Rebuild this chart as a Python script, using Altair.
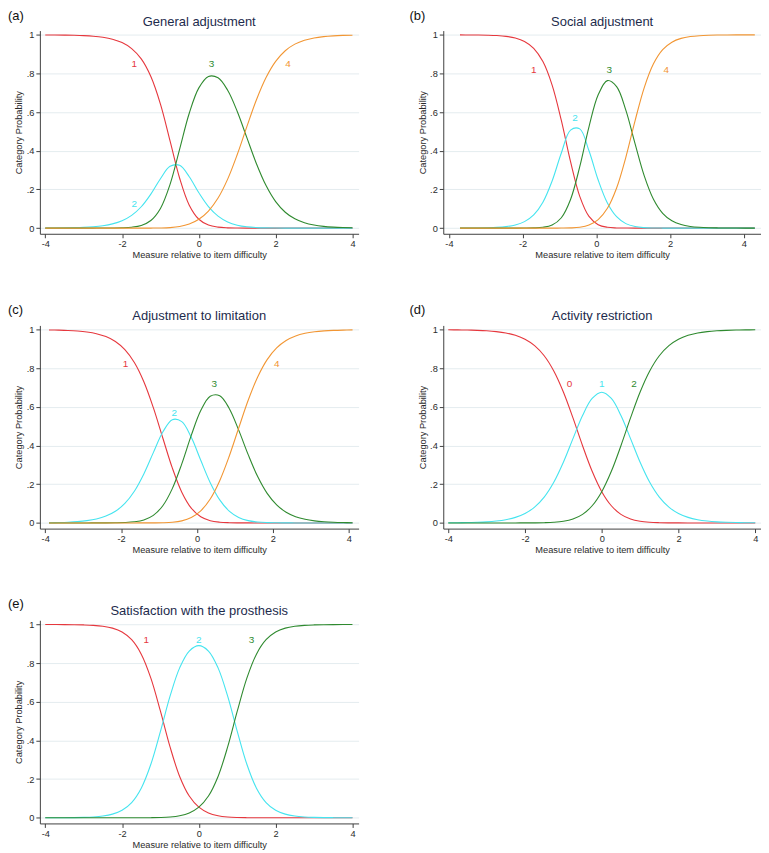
import altair as alt
import pandas as pd

FONT = "Liberation Sans"

# ---------------- data ----------------
# (a) General adjustment
a_x = [-4, -3.75, -3.5, -3.25, -3, -2.75, -2.5, -2.25, -2, -1.75, -1.5, -1.25, -1, -0.75, -0.5, -0.25,
       0, 0.25, 0.5, 0.75, 1, 1.25, 1.5, 1.75, 2, 2.25, 2.5, 2.75, 3, 3.25, 3.5, 3.75, 4]
a_cats = ["1", "2", "3", "4"]
a_p1 = [0.9996, 0.9993, 0.9987, 0.9977, 0.996, 0.993, 0.9874, 0.9775, 0.960, 0.929, 0.8756, 0.7844, 0.6417,
        0.4514, 0.2581, 0.1188, 0.0459, 0.0157, 0.0049, 0.0014, 0.0004, 0.0001, 0, 0, 0, 0, 0, 0, 0, 0, 0, 0, 0]
a_p2 = [0.0004, 0.0007, 0.0013, 0.0023, 0.004, 0.0071, 0.0125, 0.022, 0.0384, 0.066, 0.1105, 0.176, 0.2557,
        0.3197, 0.3249, 0.2657, 0.1826, 0.1111, 0.0619, 0.032, 0.0152, 0.0066, 0.0027, 0.001, 0.0003,
        0, 0, 0, 0, 0, 0, 0, 0]
a_p3 = [0, 0, 0, 0, 0, 0.0001, 0.0002, 0.0005, 0.0015, 0.0047, 0.0139, 0.0395, 0.1019, 0.2264, 0.4088, 0.5943,
        0.7256, 0.7849, 0.7777, 0.7132, 0.6035, 0.4681, 0.3331, 0.2199, 0.137, 0.0821, 0.0479, 0.0275, 0.0157,
        0.0089, 0.005, 0.0028, 0.0016]
a_p4 = [0, 0, 0, 0, 0, 0, 0, 0, 0, 0, 0, 0.0001, 0.0006, 0.0026, 0.0082, 0.0212, 0.0459, 0.0883, 0.1554,
        0.2534, 0.381, 0.5252, 0.6642, 0.7791, 0.8627, 0.918, 0.9521, 0.9725, 0.9843, 0.9911, 0.995, 0.9972, 0.9984]

# (b) Social adjustment
b_x = [-3.7, -3.45, -3.2, -2.95, -2.7, -2.45, -2.2, -1.95, -1.7, -1.45, -1.2, -0.95, -0.7, -0.45, -0.2,
       0.05, 0.3, 0.55, 0.8, 1.05, 1.3, 1.55, 1.8, 2.05, 2.3, 2.55, 2.8, 3.05, 3.3, 3.55, 3.8, 4.05, 4.3]
b_cats = ["1", "2", "3", "4"]
b_p1 = [0.9998, 0.9996, 0.9992, 0.9983, 0.9964, 0.9923, 0.9838, 0.9662, 0.9306, 0.8617, 0.7401, 0.5573,
        0.3435, 0.1642, 0.0604, 0.0178, 0.0044, 0.0009, 0.0002, 0, 0, 0, 0, 0, 0, 0, 0, 0, 0, 0, 0, 0, 0]
b_p2 = [0.0002, 0.0004, 0.0008, 0.0017, 0.0036, 0.0077, 0.0162, 0.0336, 0.0684, 0.1342, 0.2439, 0.3888,
        0.5073, 0.5135, 0.40, 0.2488, 0.13, 0.0589, 0.0232, 0.0079, 0.0023, 0.0006, 0.0001,
        0, 0, 0, 0, 0, 0, 0, 0, 0, 0]
b_p3 = [0, 0, 0, 0, 0, 0, 0, 0.0002, 0.001, 0.0041, 0.0159, 0.0537, 0.1483, 0.3178, 0.524, 0.6898, 0.7634,
        0.7323, 0.6102, 0.4368, 0.2703, 0.1492, 0.0766, 0.0377, 0.0182, 0.0087, 0.0041, 0.0019, 0.0009,
        0.0004, 0.0002, 0.0001, 0]
b_p4 = [0, 0, 0, 0, 0, 0, 0, 0, 0, 0, 0, 0.0002, 0.001, 0.0045, 0.0157, 0.0437, 0.1023, 0.2078, 0.3664,
        0.5553, 0.7274, 0.8502, 0.9234, 0.9623, 0.9818, 0.9913, 0.9959, 0.9981, 0.9991, 0.9996, 0.9998,
        0.9999, 1.0]

# (c) Adjustment to limitation
c_x = [-3.9, -3.65, -3.4, -3.15, -2.9, -2.65, -2.4, -2.15, -1.9, -1.65, -1.4, -1.15, -0.9, -0.65, -0.4,
       -0.15, 0.1, 0.35, 0.6, 0.85, 1.1, 1.35, 1.6, 1.85, 2.1, 2.35, 2.6, 2.85, 3.1, 3.35, 3.6, 3.85, 4.1]
c_cats = ["1", "2", "3", "4"]
c_p1 = [0.9988, 0.9978, 0.9962, 0.9933, 0.9882, 0.9795, 0.9644, 0.939, 0.8968, 0.83, 0.7306, 0.5967, 0.4397,
        0.2846, 0.1592, 0.0766, 0.0319, 0.0117, 0.0038, 0.0011, 0.0003, 0.0001, 0, 0, 0, 0, 0, 0, 0, 0, 0, 0, 0]
c_p2 = [0.0012, 0.0022, 0.0038, 0.0067, 0.0118, 0.0204, 0.0353, 0.0603, 0.1012, 0.1643, 0.2537, 0.3638,
        0.4703, 0.5344, 0.5245, 0.4428, 0.324, 0.2083, 0.1191, 0.0611, 0.0282, 0.0118, 0.0046, 0.0017,
        0.0006, 0.0002, 0, 0, 0, 0, 0, 0, 0]
c_p3 = [0, 0, 0, 0, 0, 0.0001, 0.0002, 0.0007, 0.002, 0.0058, 0.0156, 0.0392, 0.089, 0.1775, 0.3056, 0.4529,
        0.5815, 0.656, 0.6584, 0.5926, 0.4803, 0.3535, 0.2399, 0.1529, 0.0934, 0.0555, 0.0324, 0.0187, 0.0107,
        0.0061, 0.0035, 0.002, 0.0011]
c_p4 = [0, 0, 0, 0, 0, 0, 0, 0, 0, 0, 0.0001, 0.0003, 0.001, 0.0035, 0.0107, 0.0278, 0.0627, 0.1241, 0.2187,
        0.3452, 0.4912, 0.6346, 0.7555, 0.8454, 0.906, 0.9443, 0.9676, 0.9813, 0.9893, 0.9939, 0.9965,
        0.998, 0.9989]

# (d) Activity restriction
d_x = [-4, -3.75, -3.5, -3.25, -3, -2.75, -2.5, -2.25, -2, -1.75, -1.5, -1.25, -1, -0.75, -0.5, -0.25,
       0, 0.25, 0.5, 0.75, 1, 1.25, 1.5, 1.75, 2, 2.25, 2.5, 2.75, 3, 3.25, 3.5, 3.75, 4]
d_cats = ["0", "1", "2"]
d_p0 = [0.9994, 0.9989, 0.9981, 0.9967, 0.9944, 0.9902, 0.9832, 0.9712, 0.951, 0.9179, 0.8654, 0.7866,
        0.6779, 0.5436, 0.3997, 0.2671, 0.1618, 0.0889, 0.0443, 0.0201, 0.0083, 0.0032, 0.0012, 0.0004,
        0.0001, 0, 0, 0, 0, 0, 0, 0, 0]
d_p1 = [0.0006, 0.0011, 0.0019, 0.0033, 0.0056, 0.0098, 0.0168, 0.0288, 0.0488, 0.0816, 0.1334, 0.2101,
        0.3138, 0.4363, 0.556, 0.644, 0.6763, 0.644, 0.556, 0.4363, 0.3138, 0.2101, 0.1334, 0.0816, 0.0488,
        0.0288, 0.0168, 0.0098, 0.0056, 0.0033, 0.0019, 0.0011, 0.0006]
d_p2 = [0, 0, 0, 0, 0, 0, 0, 0, 0.0001, 0.0004, 0.0012, 0.0032, 0.0083, 0.0201, 0.0443, 0.0889, 0.1618,
        0.2671, 0.3997, 0.5436, 0.6779, 0.7866, 0.8654, 0.9179, 0.951, 0.9712, 0.9832, 0.9902, 0.9944,
        0.9967, 0.9981, 0.9989, 0.9994]

# (e) Satisfaction with the prosthesis
e_x = [-4, -3.75, -3.5, -3.25, -3, -2.75, -2.5, -2.25, -2, -1.75, -1.5, -1.25, -1, -0.75, -0.5, -0.25,
       0, 0.25, 0.5, 0.75, 1, 1.25, 1.5, 1.75, 2, 2.25, 2.5, 2.75, 3, 3.25, 3.5, 3.75, 4]
e_cats = ["1", "2", "3"]
e_p1 = [0.9999, 0.9998, 0.9996, 0.9991, 0.998, 0.9958, 0.9911, 0.9813, 0.9612, 0.9213, 0.8468, 0.7228,
        0.5515, 0.3667, 0.2136, 0.1122, 0.0547, 0.025, 0.0106, 0.0041, 0.0014, 0.0004, 0.0001,
        0, 0, 0, 0, 0, 0, 0, 0, 0, 0]
e_p2 = [0.0001, 0.0002, 0.0004, 0.0009, 0.002, 0.0042, 0.0089, 0.0187, 0.0388, 0.0787, 0.1532, 0.2768,
        0.4471, 0.6293, 0.7758, 0.8628, 0.8906, 0.8628, 0.7758, 0.6293, 0.4471, 0.2768, 0.1532, 0.0787,
        0.0388, 0.0187, 0.0089, 0.0042, 0.002, 0.0009, 0.0004, 0.0002, 0.0001]
e_p3 = [0, 0, 0, 0, 0, 0, 0, 0, 0, 0, 0.0001, 0.0004, 0.0014, 0.0041, 0.0106, 0.025, 0.0547, 0.1122, 0.2136,
        0.3667, 0.5515, 0.7228, 0.8468, 0.9213, 0.9612, 0.9813, 0.9911, 0.9958, 0.998, 0.9991, 0.9996,
        0.9998, 0.9999]

x_ticks = [-4, -2, 0, 2, 4]
y_ticks = [0, 0.2, 0.4, 0.6, 0.8, 1]

# ---------------- styling ----------------
PALETTE = ["#e6373d", "#45e4ef", "#2f8a2f", "#f29633"]
AXIS_COL = "#3f3f3f"
TEXT_COL = "#2b2b2b"
TITLE_COL = "#1d2b4c"
GRID_COL = "#e4ecef"
PLOT_H = 204
Y_DOM = [-0.0294, 1.0222]


def make_panel(title, letter, xs, cats, series, label_pos, xdom, width, letter_xy):
    rows = []
    for cat, vals in zip(cats, series):
        for xv, pv in zip(xs, vals):
            rows.append({"x": xv, "series": cat, "p": pv})
    df = pd.DataFrame(rows)

    x_enc = alt.X(
        "x:Q",
        scale=alt.Scale(domain=xdom, nice=False, zero=False),
        axis=alt.Axis(
            values=x_ticks, title="Measure relative to item difficulty", grid=False,
            labelExpr="toString(datum.value)", labelFlush=False, labelOverlap=False,
            tickSize=4, tickColor=AXIS_COL, domainColor=AXIS_COL, labelPadding=2,
            labelFont=FONT, labelFontSize=9.3, labelColor=TEXT_COL,
            titleFont=FONT, titleFontSize=9.3, titleFontWeight="normal", titleColor=TEXT_COL,
            titleY=24.3, titleBaseline="alphabetic",
        ),
    )
    y_enc = alt.Y(
        "p:Q",
        scale=alt.Scale(domain=Y_DOM, nice=False, zero=False),
        axis=alt.Axis(
            values=y_ticks, title="Category Probability", grid=True, gridColor=GRID_COL,
            labelExpr="datum.value == 0 ? '0' : datum.value == 1 ? '1' : replace(toString(datum.value), '0.', '.')",
            labelOverlap=False, tickSize=4, tickColor=AXIS_COL, domainColor=AXIS_COL, labelPadding=2,
            labelFont=FONT, labelFontSize=9.3, labelColor=TEXT_COL,
            titleFont=FONT, titleFontSize=9.3, titleFontWeight="normal", titleColor=TEXT_COL,
            titleAngle=-90, titleX=-18, titleY=PLOT_H / 2, titleAlign="center", titleBaseline="alphabetic",
        ),
    )

    layers = []
    for i, cat in enumerate(cats):
        layers.append(
            alt.Chart(df)
            .transform_filter(alt.datum.series == cat)
            .mark_line(color=PALETTE[i], strokeWidth=1.1, interpolate="catmull-rom")
            .encode(x=x_enc, y=y_enc)
        )
    one = alt.Data(values=[{}])
    for i, (cat, (lx, ly)) in enumerate(zip(cats, label_pos)):
        layers.append(
            alt.Chart(one)
            .mark_text(color=PALETTE[i], font=FONT, fontSize=10, align="center", baseline="middle")
            .encode(x=alt.datum(lx), y=alt.datum(ly), text=alt.value(cat))
        )
    # panel title (as a text mark so that it does not disturb the grid layout)
    layers.append(
        alt.Chart(one)
        .mark_text(color=TITLE_COL, font=FONT, fontSize=13, align="center", baseline="alphabetic")
        .encode(x=alt.value(width / 2), y=alt.value(-5), text=alt.value(title))
    )
    # panel letter
    layers.append(
        alt.Chart(one)
        .mark_text(color="#111111", font=FONT, fontSize=13, align="left", baseline="top")
        .encode(x=alt.value(letter_xy[0]), y=alt.value(letter_xy[1]), text=alt.value(letter))
    )
    return alt.layer(*layers).properties(width=width, height=PLOT_H)


pa = make_panel("General adjustment", "(a)", a_x, a_cats, [a_p1, a_p2, a_p3, a_p4],
                [(-1.68, 0.85), (-1.68, 0.124), (0.33, 0.85), (2.32, 0.85)],
                [-4.14, 4.16], 320, (-32, -21))
pb = make_panel("Social adjustment", "(b)", b_x, b_cats, [b_p1, b_p2, b_p3, b_p4],
                [(-1.70, 0.816), (-0.58, 0.57), (0.35, 0.82), (1.9, 0.82)],
                [-4.154, 4.468], 319, (-34, -21))
pc = make_panel("Adjustment to limitation", "(c)", c_x, c_cats, [c_p1, c_p2, c_p3, c_p4],
                [(-1.88, 0.821), (-0.595, 0.57), (0.455, 0.721), (2.10, 0.821)],
                [-4.14, 4.26], 320, (-32, -21.5))
pd_ = make_panel("Activity restriction", "(d)", d_x, d_cats, [d_p0, d_p1, d_p2],
                 [(-0.84, 0.721), (0.0, 0.721), (0.84, 0.721)],
                 [-4.13, 4.15], 319, (-34, -21.5))
pe = make_panel("Satisfaction with the prosthesis", "(e)", e_x, e_cats, [e_p1, e_p2, e_p3],
                [(-1.37, 0.918), (0.0, 0.918), (1.37, 0.918)],
                [-4.14, 4.16], 320, (-32, -22))

chart = (
    alt.concat(pa, pb, pc, pd_, pe, columns=2,
               spacing=alt.RowColnumber(row=92, column=85), bounds="flush")
    .properties(padding=0, background="white")
    .configure_view(stroke=None)
    .configure_axis(domainWidth=1, tickWidth=1, gridWidth=1)
)

chart.save("out.html", embed_options={"renderer": "svg", "actions": False})
